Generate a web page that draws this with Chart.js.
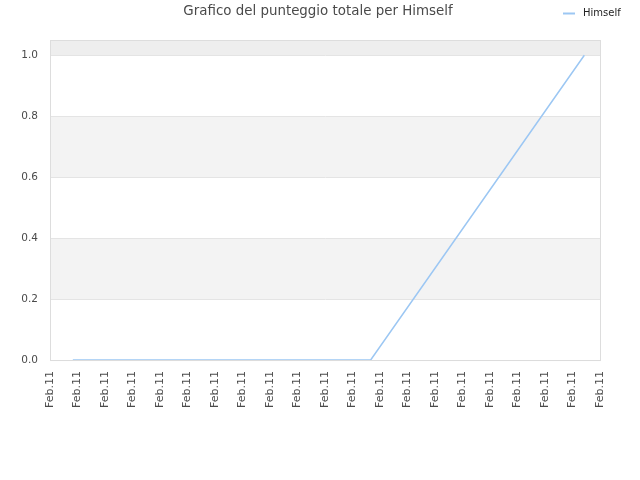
<!DOCTYPE html>
<html>
<head>
<meta charset="utf-8">
<script src="https://cdn.jsdelivr.net/npm/chart.js@4/dist/chart.umd.min.js"></script>
<style>
  html, body { margin: 0; padding: 0; background: #fff; }
  #wrap { width: 640px; height: 480px; }
</style>
</head>
<body>
<div id="wrap"><canvas id="chart"></canvas></div>
<script>
const chartTitle = 'Grafico del punteggio totale per Himself';
const seriesName = 'Himself';
// x position of each point, measured in tick steps along the time axis
const timeValues = [0.83, 11.66, 19.43];
const scoreValues = [0, 0, 1];
const tickLabels = Array(21).fill('Feb.11');
const yTicks = [0, 0.2, 0.4, 0.6, 0.8, 1.0];

const points = timeValues.map((t, i) => ({ x: t, y: scoreValues[i] }));

// alternating background bands + frame round the plot
const bands = {
    id: 'bands',
    beforeDraw(chart) {
        const { ctx, chartArea: a, scales: { y } } = chart;
        ctx.save();
        const edges = yTicks.concat([y.max]);
        for (let i = 0; i < edges.length - 1; i++) {
            if (i % 2 === 1) {
                const top = y.getPixelForValue(edges[i + 1]);
                const bot = y.getPixelForValue(edges[i]);
                ctx.fillStyle = i === edges.length - 2 ? '#eeeeee' : '#f3f3f3';
                ctx.fillRect(a.left, top, a.right - a.left, bot - top);
            }
        }
        ctx.restore();
    },
    afterDraw(chart) {
        const { ctx, chartArea: a } = chart;
        ctx.save();
        ctx.strokeStyle = '#dddddd';
        ctx.lineWidth = 1;
        ctx.strokeRect(a.left + 0.5, a.top + 0.5, a.right - a.left, a.bottom - a.top);
        ctx.restore();
    }
};

// title and legend share the top line, so both are drawn here
const header = {
    id: 'header',
    afterDraw(chart) {
        const ctx = chart.ctx;
        const ds = chart.data.datasets[0];
        ctx.save();
        ctx.font = '13.4px "DejaVu Sans"';
        ctx.fillStyle = '#4a4a4a';
        ctx.textAlign = 'center';
        ctx.textBaseline = 'middle';
        ctx.fillText(chartTitle, 318, 12);

        ctx.strokeStyle = ds.borderColor;
        ctx.lineWidth = 2;
        ctx.beginPath();
        ctx.moveTo(563, 13.5);
        ctx.lineTo(575, 13.5);
        ctx.stroke();
        ctx.font = '10px "DejaVu Sans"';
        ctx.fillStyle = '#222';
        ctx.textAlign = 'left';
        ctx.fillText(ds.label, 583, 13);
        ctx.restore();
    }
};

new Chart(document.getElementById('chart'), {
    type: 'line',
    data: {
        datasets: [{
            label: seriesName,
            data: points,
            borderColor: '#9cc7f3',
            backgroundColor: '#9cc7f3',
            borderWidth: 1.5,
            pointRadius: 0,
            tension: 0,
            fill: false
        }]
    },
    options: {
        responsive: true,
        maintainAspectRatio: false,
        animation: false,
        layout: { padding: { left: 0, right: 40, top: 40, bottom: 69 } },
        plugins: {
            title: { display: false },
            tooltip: { enabled: false },
            legend: { display: false }
        },
        scales: {
            x: {
                type: 'linear',
                min: 0,
                max: tickLabels.length - 1,
                grid: { display: false },
                border: { color: '#dddddd' },
                ticks: {
                    stepSize: 1,
                    autoSkip: false,
                    maxRotation: 90,
                    minRotation: 90,
                    color: '#4a4a4a',
                    font: { family: 'DejaVu Sans', size: 11 },
                    callback: (v) => tickLabels[v]
                }
            },
            y: {
                min: 0,
                max: 1.05,
                afterBuildTicks(scale) {
                    scale.ticks = yTicks.map(v => ({ value: v }));
                },
                afterFit(scale) { scale.width = 50; },
                grid: { color: '#e4e4e4', drawTicks: false },
                border: { color: '#dddddd' },
                ticks: {
                    padding: 12,
                    color: '#4a4a4a',
                    font: { family: 'DejaVu Sans', size: 10.5 },
                    callback: (v) => v.toFixed(1)
                }
            }
        }
    },
    plugins: [bands, header]
});
</script>
</body>
</html>
